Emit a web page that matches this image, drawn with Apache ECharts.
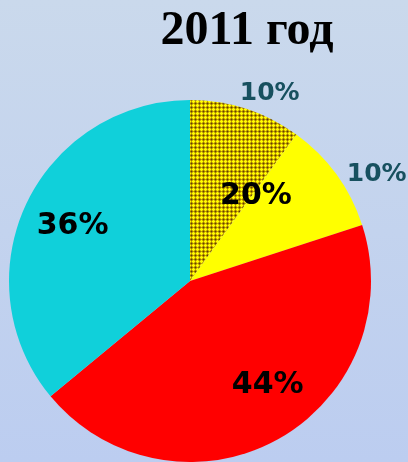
<!DOCTYPE html>
<html>
<head>
<meta charset="utf-8">
<script src="https://cdn.jsdelivr.net/npm/echarts@6/dist/echarts.min.js"></script>
<style>
  html, body { margin: 0; padding: 0; }
  body { background: linear-gradient(to bottom, #cad9ec, #bccdf0); }
  #chart { width: 408px; height: 462px; }
</style>
</head>
<body>
<div id="chart"></div>
<script>
// данные диаграммы
const titleText = "2011 год";
const sliceNames = ["Часть 1", "Часть 2", "Часть 3", "Часть 4"];
const sliceValues = [10, 10, 44, 36];
const sliceColors = ["pattern", "#ffff00", "#ff0000", "#10d0da"];
const groupNames = ["Части 1+2", "Остальное"];
const groupValues = [20, 80];

const R = 181;
const center = [190, 281];

// штриховка первого сектора
function makePattern() {
  const c = document.createElement("canvas");
  c.width = 4;
  c.height = 4;
  const ctx = c.getContext("2d");
  for (let x = 0; x < 4; x++) {
    for (let y = 0; y < 4; y++) {
      let col = "#d4b400";
      if (x === 1 || y === 1) col = "#ffff00";
      if (x === 3 || y === 3) col = "#9c7800";
      if (x === 3 && y === 3) col = "#5e4400";
      if ((x === 3 && y === 1) || (x === 1 && y === 3)) col = "#c8a400";
      ctx.fillStyle = col;
      ctx.fillRect(x, y, 1, 1);
    }
  }
  return { image: c, repeat: "repeat" };
}

const pattern = makePattern();
const fill = sliceColors.map((c) => (c === "pattern" ? pattern : c));
const pct = (v) => v + "%";

const myChart = echarts.init(document.getElementById("chart"));

const none = { color: "transparent" };
const bigLabel = {
  position: "inside",
  fontFamily: "DejaVu Sans",
  fontWeight: "bold",
  fontSize: 30,
  color: "#000",
};
const outLabel = {
  position: "inside",
  fontFamily: "DejaVu Sans",
  fontWeight: "bold",
  fontSize: 25,
  color: "#17505f",
};

// прозрачный пирог только для подписи
function labelPie(names, values, radius, startAngle, showIdx, style) {
  return {
    type: "pie",
    center: center,
    radius: [0, radius],
    startAngle: startAngle,
    silent: true,
    itemStyle: none,
    labelLine: { show: false },
    data: values.map((v, i) => ({
      name: names[i],
      value: v,
      label: Object.assign({ show: showIdx.includes(i), formatter: pct(v) }, style),
    })),
  };
}

let option = {
  animation: false,
  title: {
    text: titleText,
    left: 242,
    top: 3,
    textAlign: "center",
    textStyle: {
      fontFamily: "Liberation Serif",
      fontWeight: "bold",
      fontSize: 48,
      color: "#000",
    },
  },
  series: [
    {
      type: "pie",
      center: center,
      radius: [0, R],
      silent: true,
      label: { show: false },
      labelLine: { show: false },
      data: sliceValues.map((v, i) => ({
        name: sliceNames[i],
        value: v,
        itemStyle: { color: fill[i] },
      })),
    },
    labelPie(sliceNames, sliceValues, R * 1.4, 90, [3], bigLabel),
    labelPie(sliceNames, sliceValues, R * 1.4, 98, [2], bigLabel),
    labelPie(sliceNames, sliceValues, R * 2.22, 85, [0], outLabel),
    labelPie(sliceNames, sliceValues, R * 2.34, 83.6, [1], outLabel),
    labelPie(groupNames, groupValues, R * 1.15, 88, [0], bigLabel),
  ],
};
myChart.setOption(option);
</script>
</body>
</html>
